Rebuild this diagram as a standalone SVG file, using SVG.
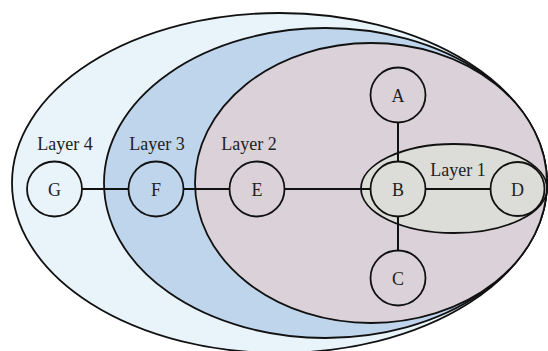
<svg xmlns="http://www.w3.org/2000/svg" width="548" height="351" viewBox="0 0 548 351">
<style>
.layer{stroke:#111;stroke-width:1.8}
.node circle{fill:none;stroke:#111;stroke-width:1.8}
.node text,.lbl{font-family:"Liberation Serif","Times New Roman",serif;font-size:18px;fill:#222;text-anchor:middle}
.edge{stroke:#111;stroke-width:2;fill:none}
</style>
<rect width="548" height="351" fill="#fff"/>
<g id="layers">
<ellipse id="layer4" class="layer" cx="279.5" cy="183" rx="267.5" ry="170" fill="#E8F4FA"/>
<ellipse id="layer3" class="layer" cx="325.5" cy="183" rx="221.5" ry="155" fill="#BED5EC"/>
<ellipse id="layer2" class="layer" cx="371" cy="183" rx="176" ry="140" fill="#DBD2D9"/>
<ellipse id="layer1" class="layer" cx="454" cy="188.5" rx="93" ry="44.5" fill="#DCDDD8"/>
</g>
<g id="labels">
<text class="lbl" x="65" y="150">Layer 4</text>
<text class="lbl" x="157" y="150">Layer 3</text>
<text class="lbl" x="249" y="150">Layer 2</text>
<text class="lbl" x="458" y="175.5">Layer 1</text>
</g>
<g id="connectors">
<line class="edge" x1="82" y1="189" x2="128.5" y2="189"/>
<line class="edge" x1="183.5" y1="189" x2="229.5" y2="189"/>
<line class="edge" x1="284.5" y1="189" x2="370.5" y2="189"/>
<line class="edge" x1="425.5" y1="189" x2="490.5" y2="189"/>
<line class="edge" x1="398" y1="122.5" x2="398" y2="161.5"/>
<line class="edge" x1="398" y1="216.5" x2="398" y2="250.5"/>
</g>
<g id="node-A" class="node"><circle cx="398" cy="95" r="27.5"/><text x="398" y="101.5">A</text></g>
<g id="node-B" class="node"><circle cx="398" cy="189" r="27.5"/><text x="398" y="195.5">B</text></g>
<g id="node-C" class="node"><circle cx="398" cy="278" r="27.5"/><text x="398" y="284.5">C</text></g>
<g id="node-D" class="node"><circle cx="517.5" cy="189" r="27"/><text x="517.5" y="195.5">D</text></g>
<g id="node-E" class="node"><circle cx="257" cy="189" r="27.5"/><text x="257" y="195.5">E</text></g>
<g id="node-F" class="node"><circle cx="156" cy="189" r="27.5"/><text x="156" y="195.5">F</text></g>
<g id="node-G" class="node"><circle cx="54.5" cy="189" r="27.5"/><text x="54.5" y="195.5">G</text></g>
</svg>
